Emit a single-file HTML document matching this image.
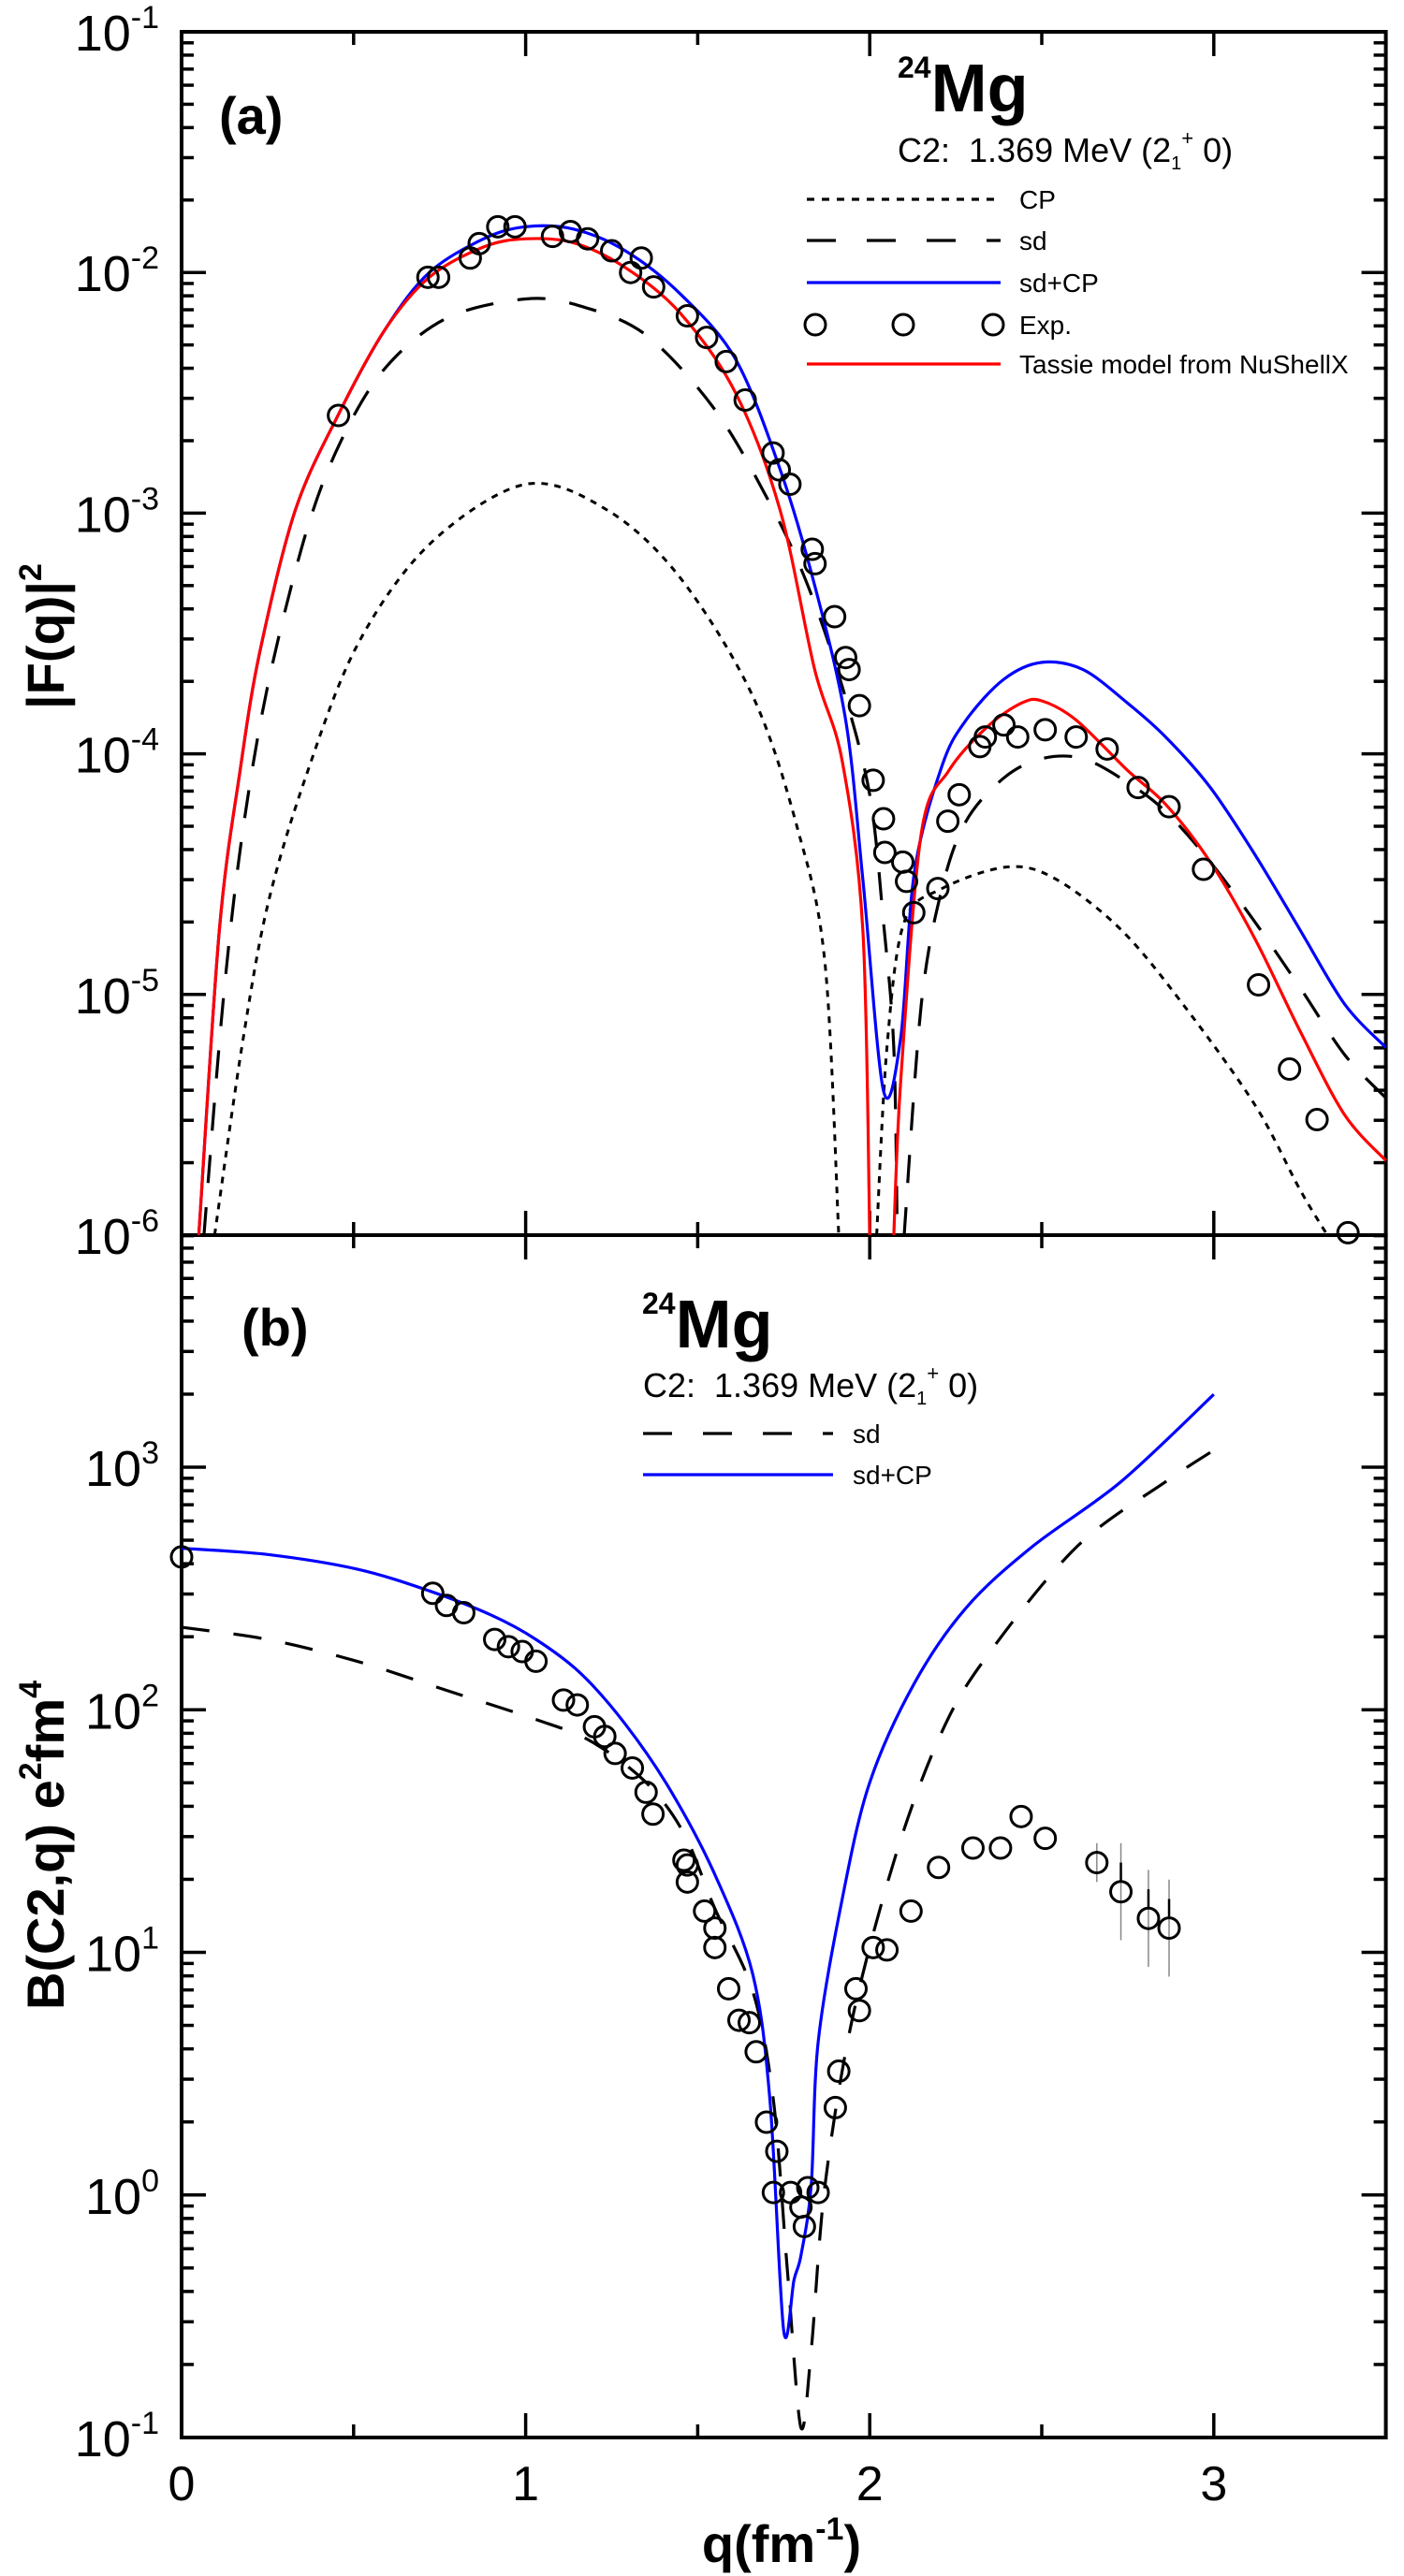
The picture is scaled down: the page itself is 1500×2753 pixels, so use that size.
<!DOCTYPE html>
<html><head><meta charset="utf-8">
<style>
html,body{margin:0;padding:0;background:#fff;}
svg{display:block;font-family:"Liberation Sans",Arial,sans-serif;}
</style></head>
<body>
<svg id="chart" width="1500" height="2753" viewBox="0 0 1500 2753" xmlns="http://www.w3.org/2000/svg"></svg>
<script>
// ---------- Panel (a) data: q (fm^-1) and log10 |F(q)|^2 ----------
const aRedL_q = [0.05,0.11,0.17,0.227,0.33,0.456,0.59,0.72,0.878,1.0,1.14,1.29,1.45,1.61,1.74,1.84,1.92,1.98,2.0];
const aRedL_v = [-6,-4.73,-4.07,-3.58,-2.99,-2.59,-2.24,-2.02,-1.894,-1.86,-1.877,-1.98,-2.17,-2.50,-2.99,-3.65,-4.03,-4.73,-6];
const aRedR_q = [2.07,2.09,2.15,2.23,2.34,2.44,2.5,2.6,2.75,2.86,2.99,3.12,3.25,3.38,3.5];
const aRedR_v = [-6,-5.36,-4.33,-4.07,-3.89,-3.79,-3.78,-3.86,-4.07,-4.21,-4.45,-4.77,-5.15,-5.50,-5.69];
const aBlue_q = [0.05,0.11,0.17,0.227,0.33,0.456,0.59,0.72,0.878,1.0,1.14,1.29,1.45,1.61,1.74,1.84,1.93,1.98,2.04,2.09,2.13,2.21,2.28,2.39,2.5,2.62,2.75,2.86,2.99,3.12,3.25,3.38,3.5];
const aBlue_v = [-6,-4.73,-4.07,-3.58,-2.99,-2.59,-2.24,-2.0,-1.86,-1.81,-1.82,-1.91,-2.09,-2.36,-2.82,-3.30,-3.86,-4.52,-5.40,-5.18,-4.49,-4.05,-3.86,-3.69,-3.62,-3.65,-3.79,-3.93,-4.14,-4.42,-4.73,-5.04,-5.22];
const aSdL_q = [0.065,0.12,0.175,0.25,0.36,0.46,0.59,0.77,1.0,1.16,1.35,1.55,1.71,1.82,1.92,2.0,2.04,2.07,2.08];
const aSdL_v = [-6,-5.04,-4.35,-3.72,-3.09,-2.71,-2.40,-2.19,-2.11,-2.14,-2.26,-2.57,-2.96,-3.30,-3.72,-4.17,-4.70,-5.22,-6];
const aSdR_q = [2.10,2.15,2.21,2.28,2.39,2.5,2.62,2.75,2.86,2.99,3.12,3.25,3.38,3.5];
const aSdR_v = [-6,-5.04,-4.56,-4.28,-4.10,-4.02,-4.02,-4.12,-4.24,-4.45,-4.70,-4.97,-5.25,-5.43];
const aCpL_q = [0.096,0.175,0.25,0.36,0.51,0.72,1.0,1.24,1.45,1.66,1.79,1.87,1.91];
const aCpL_v = [-6,-5.22,-4.63,-4.10,-3.55,-3.13,-2.88,-2.99,-3.27,-3.76,-4.31,-4.87,-6];
const aCpR_q = [2.02,2.05,2.10,2.21,2.40,2.54,2.73,2.91,3.12,3.25,3.33];
const aCpR_v = [-6,-5.22,-4.70,-4.56,-4.47,-4.52,-4.73,-5.04,-5.46,-5.81,-6];
const aExp_q = [0.456,0.716,0.747,0.839,0.865,0.919,0.969,1.078,1.13,1.18,1.25,1.305,1.336,1.372,1.47,1.526,1.583,1.638,1.719,1.737,1.768,1.833,1.841,1.898,1.93,1.94,1.97,2.01,2.04,2.044,2.096,2.107,2.128,2.198,2.227,2.26,2.32,2.336,2.39,2.43,2.51,2.60,2.69,2.78,2.87,2.97,3.13,3.22,3.30,3.39];
const aExp_v = [-2.594,-2.02,-2.02,-1.94,-1.88,-1.81,-1.81,-1.85,-1.83,-1.86,-1.91,-2.0,-1.94,-2.06,-2.18,-2.27,-2.37,-2.53,-2.75,-2.82,-2.88,-3.15,-3.21,-3.43,-3.60,-3.65,-3.80,-4.11,-4.27,-4.41,-4.45,-4.53,-4.66,-4.56,-4.28,-4.17,-3.97,-3.93,-3.88,-3.93,-3.90,-3.93,-3.98,-4.14,-4.22,-4.48,-4.96,-5.31,-5.52,-5.99];
const aTickExp = [-1,-2,-3,-4,-5,-6];

// ---------- Panel (b) data: q and log10 B(C2,q) ----------
const bBlue_q = [0,0.25,0.51,0.72,0.90,1.03,1.16,1.29,1.42,1.55,1.66,1.71,1.75,1.78,1.80,1.83,1.85,1.92,2.0,2.13,2.28,2.47,2.73,3.0];
const bBlue_v = [2.666,2.64,2.58,2.49,2.39,2.29,2.15,1.94,1.67,1.32,0.91,0.39,-0.56,-0.35,-0.25,0.04,0.63,1.22,1.70,2.11,2.42,2.67,2.94,3.30];
const bSd_q = [0,0.25,0.51,0.77,1.03,1.19,1.35,1.46,1.55,1.66,1.72,1.76,1.80,1.83,1.87,1.95,2.08,2.21,2.34,2.60,2.86,3.0];
const bSd_v = [2.34,2.29,2.20,2.08,1.96,1.87,1.70,1.49,1.18,0.84,0.39,-0.30,-0.96,-0.64,0.04,0.73,1.42,1.91,2.22,2.67,2.94,3.07];
const bExp_q = [0,0.73,0.77,0.82,0.91,0.95,0.99,1.03,1.11,1.15,1.20,1.23,1.26,1.31,1.35,1.37,1.46,1.47,1.47,1.52,1.55,1.55,1.59,1.62,1.65,1.67,1.70,1.73,1.72,1.77,1.80,1.82,1.81,1.85,1.90,1.91,1.96,1.97,2.01,2.05,2.12,2.20,2.30,2.38,2.44,2.51,2.66,2.73,2.81,2.87];
const bExp_v = [2.63,2.48,2.43,2.40,2.29,2.26,2.24,2.20,2.04,2.02,1.93,1.89,1.82,1.76,1.66,1.57,1.38,1.36,1.29,1.17,1.10,1.02,0.85,0.72,0.71,0.59,0.30,0.18,0.01,0.01,-0.05,0.03,-0.13,0.01,0.36,0.51,0.85,0.76,1.02,1.01,1.17,1.35,1.43,1.43,1.56,1.47,1.37,1.25,1.14,1.10];
const bErr = [0,0,0,0,0,0,0,0,0,0,0,0,0,0,0,0,0,0,0,0,0,0,0,0,0,0,0,0,0,0,0,0,0,0,0,0,0,0,0,0,0,0,0,0,0,0,0.08,0.2,0.2,0.2];
const bTickExp = [-1,0,1,2,3];
const xTicks = [0,1,2,3];

// ---------- axes geometry ----------
const X0 = 194, XPU = 367.6;
const xs = q => X0 + q * XPU;
const aTop = 34, aBot = 1320, aDec = (aBot - aTop) / 5;
const ya = l => aTop + (-1 - l) * aDec;
const bTop = 1320, bBot = 2605, bDec = 259.25;
const yb = l => bBot - (l + 1) * bDec;
const XR = xs(3.5);

const svg = document.getElementById('chart');
const NS = 'http://www.w3.org/2000/svg';
function mk(tag, attrs, parent) {
  const e = document.createElementNS(NS, tag);
  for (const k in attrs) e.setAttribute(k, attrs[k]);
  (parent || svg).appendChild(e);
  return e;
}
function pathFrom(qs, vs, ysc, ymin, ymax) {
  const P = qs.map((q, i) => [xs(q), ysc(vs[i])]);
  const cl = y => Math.min(Math.max(y, ymin), ymax);
  let d = 'M' + P[0][0].toFixed(1) + ',' + cl(P[0][1]).toFixed(1);
  for (let i = 0; i < P.length - 1; i++) {
    const p0 = P[Math.max(i - 1, 0)], p1 = P[i], p2 = P[i + 1], p3 = P[Math.min(i + 2, P.length - 1)];
    const t = 0.16;
    const c1x = p1[0] + (p2[0] - p0[0]) * t, c1y = p1[1] + (p2[1] - p0[1]) * t;
    const c2x = p2[0] - (p3[0] - p1[0]) * t, c2y = p2[1] - (p3[1] - p1[1]) * t;
    d += 'C' + c1x.toFixed(1) + ',' + cl(c1y).toFixed(1) + ' ' + c2x.toFixed(1) + ',' + cl(c2y).toFixed(1) + ' ' + p2[0].toFixed(1) + ',' + cl(p2[1]).toFixed(1);
  }
  return d;
}
function curve(name, qs, vs, ysc, ymin, ymax, color, dash, w) {
  const p = mk('path', {d: pathFrom(qs, vs, ysc, ymin, ymax), fill: 'none', stroke: color, 'stroke-width': w || 3.2, 'stroke-dasharray': dash || 'none', 'stroke-linejoin': 'round'});
  
  
}
function points(name, qs, vs, ysc, errs) {
  const g = mk('g', {});
  
  
  for (let i = 0; i < qs.length; i++) {
    const cx = xs(qs[i]), cy = ysc(vs[i]);
    if (errs && errs[i] > 0) {
      const l = mk('line', {x1: cx, x2: cx, y1: ysc(vs[i] + errs[i]), y2: ysc(vs[i] - errs[i]), stroke: '#888', 'stroke-width': 1.5}, g);
      
      
      const l2 = mk('line', {x1: cx, x2: cx, y1: ysc(vs[i] + errs[i] * 0.6), y2: cy - 11, stroke: '#000', 'stroke-width': 2.5}, g);
      
      
    }
    const c = mk('circle', {cx: cx, cy: cy, r: 11, fill: 'none', stroke: '#000', 'stroke-width': 3}, g);
    
    
  }
}
function text(name, x, y, str, size, opts) {
  opts = opts || {};
  const t = mk('text', {x: x, y: y, 'font-size': size, 'font-weight': opts.bold ? 'bold' : 'normal', 'text-anchor': opts.anchor || 'start', fill: '#000'});
  if (opts.transform) t.setAttribute('transform', opts.transform);
  
  
  t.innerHTML = str;
  return t;
}

// ---------- frames & ticks ----------
function frame(name, top, bot, topExp, nDec, labelExps, ysc) {
  const g = mk('g', {});
  
  
  mk('rect', {x: X0, y: top, width: XR - X0, height: bot - top, fill: 'none', stroke: '#000', 'stroke-width': 4}, g);
  for (let d = 0; d < nDec; d++) {
    const base = topExp - d - 1;
    for (let m = 1; m <= 9; m++) {
      const y = ysc(base + Math.log10(m));
      const len = m === 1 ? 26 : 13;
      if (y < top - 1 || y > bot + 1) continue;
      mk('line', {x1: X0, x2: X0 + len, y1: y, y2: y, stroke: '#000', 'stroke-width': 3.5}, g);
      mk('line', {x1: XR, x2: XR - len, y1: y, y2: y, stroke: '#000', 'stroke-width': 3.5}, g);
    }
  }
  for (let q = 0.5; q < 3.5; q += 0.5) {
    const len = Number.isInteger(q) ? 26 : 14;
    mk('line', {x1: xs(q), x2: xs(q), y1: top, y2: top + len, stroke: '#000', 'stroke-width': 3.5}, g);
    mk('line', {x1: xs(q), x2: xs(q), y1: bot, y2: bot - len, stroke: '#000', 'stroke-width': 3.5}, g);
  }
  labelExps.forEach(e => {
    const y = ysc(e);
    text('y-tick-label', 170, y + 20, '10<tspan dy="-24" font-size="34">' + e + '</tspan>', 54, {anchor: 'end'});
  });
}
frame('panel-a-axes', aTop, aBot, -1, 5, aTickExp, ya);
frame('panel-b-axes', bTop, bBot, 4, 5, bTickExp, yb);

xTicks.forEach(q => text('x-tick-label', xs(q), 2672, String(q), 52, {anchor: 'middle'}));

// ---------- panel (a) series ----------
curve('cp-curve-left', aCpL_q, aCpL_v, ya, aTop, aBot, '#000', '7 7', 3);
curve('cp-curve-right', aCpR_q, aCpR_v, ya, aTop, aBot, '#000', '7 7', 3);
curve('sd-curve-left', aSdL_q, aSdL_v, ya, aTop, aBot, '#000', '30 26', 3.2);
curve('sd-curve-right', aSdR_q, aSdR_v, ya, aTop, aBot, '#000', '30 26', 3.2);
curve('sd-cp-curve', aBlue_q, aBlue_v, ya, aTop, aBot, '#0000ff', null, 3.2);
curve('tassie-curve-left', aRedL_q, aRedL_v, ya, aTop, aBot, '#ff0000', null, 3.2);
curve('tassie-curve-right', aRedR_q, aRedR_v, ya, aTop, aBot, '#ff0000', null, 3.2);
points('exp-points-a', aExp_q, aExp_v, ya);

// ---------- panel (b) series ----------
curve('sd-curve-b', bSd_q, bSd_v, yb, bTop, bBot, '#000', '30 26', 3.2);
curve('sd-cp-curve-b', bBlue_q, bBlue_v, yb, bTop, bBot, '#0000ff', null, 3.2);
points('exp-points-b', bExp_q, bExp_v, yb, bErr);

// ---------- labels ----------
text('panel-a-label', 234, 143, '(a)', 56, {bold: true});
text('panel-b-label', 258, 1438, '(b)', 56, {bold: true});
text('panel-a-title', 959, 119, '<tspan font-size="32" dy="-36">24</tspan><tspan dy="36" font-size="72">Mg</tspan>', 72, {bold: true});
text('panel-a-subtitle', 959, 173, 'C2:&#160; 1.369 MeV (2<tspan font-size="20" dy="8">1</tspan><tspan font-size="22" dy="-26">+</tspan><tspan dy="18"> 0)</tspan>', 36);
text('panel-b-title', 686, 1440, '<tspan font-size="32" dy="-36">24</tspan><tspan dy="36" font-size="72">Mg</tspan>', 72, {bold: true});
text('panel-b-subtitle', 687, 1493, 'C2:&#160; 1.369 MeV (2<tspan font-size="20" dy="8">1</tspan><tspan font-size="22" dy="-26">+</tspan><tspan dy="18"> 0)</tspan>', 36);

text('y-axis-title-a', 0, 0, '|F(q)|<tspan font-size="34" dy="-24">2</tspan>', 56, {bold: true, anchor: 'middle', transform: 'translate(68,680) rotate(-90)'});
text('y-axis-title-b', 0, 0, 'B(C2,q) e<tspan font-size="34" dy="-24">2</tspan><tspan dy="24">fm</tspan><tspan font-size="34" dy="-24">4</tspan>', 56, {bold: true, anchor: 'middle', transform: 'translate(68,1972) rotate(-90)'});
text('x-axis-title', 835, 2738, 'q(fm<tspan font-size="34" dy="-24">-1</tspan><tspan dy="24">)</tspan>', 56, {bold: true, anchor: 'middle'});

// ---------- legends ----------
function legendLine(name, x1, x2, y, color, dash, label, tx) {
  const g = mk('g', {});
  
  
  mk('line', {x1: x1, x2: x2, y1: y, y2: y, stroke: color, 'stroke-width': 3.2, 'stroke-dasharray': dash || 'none'}, g);
  const t = mk('text', {x: tx, y: y + 10, 'font-size': 28, fill: '#000'}, g);
  t.textContent = label;
}
legendLine('legend-cp', 862, 1069, 213, '#000', '8 8', 'CP', 1089);
legendLine('legend-sd', 862, 1069, 257, '#000', '31 33', 'sd', 1089);
legendLine('legend-sd-cp', 862, 1069, 302, '#0000ff', null, 'sd+CP', 1089);
(function () {
  const g = mk('g', {});
  
  
  [871, 965, 1061].forEach(x => mk('circle', {cx: x, cy: 347, r: 11, fill: 'none', stroke: '#000', 'stroke-width': 3}, g));
  const t = mk('text', {x: 1089, y: 357, 'font-size': 28, fill: '#000'}, g);
  t.textContent = 'Exp.';
})();
legendLine('legend-tassie', 862, 1069, 389, '#ff0000', null, 'Tassie model from NuShellX', 1089);
legendLine('legend-b-sd', 687, 890, 1532, '#000', '31 33', 'sd', 911);
legendLine('legend-b-sd-cp', 687, 890, 1576, '#0000ff', null, 'sd+CP', 911);
</script>
</body></html>
